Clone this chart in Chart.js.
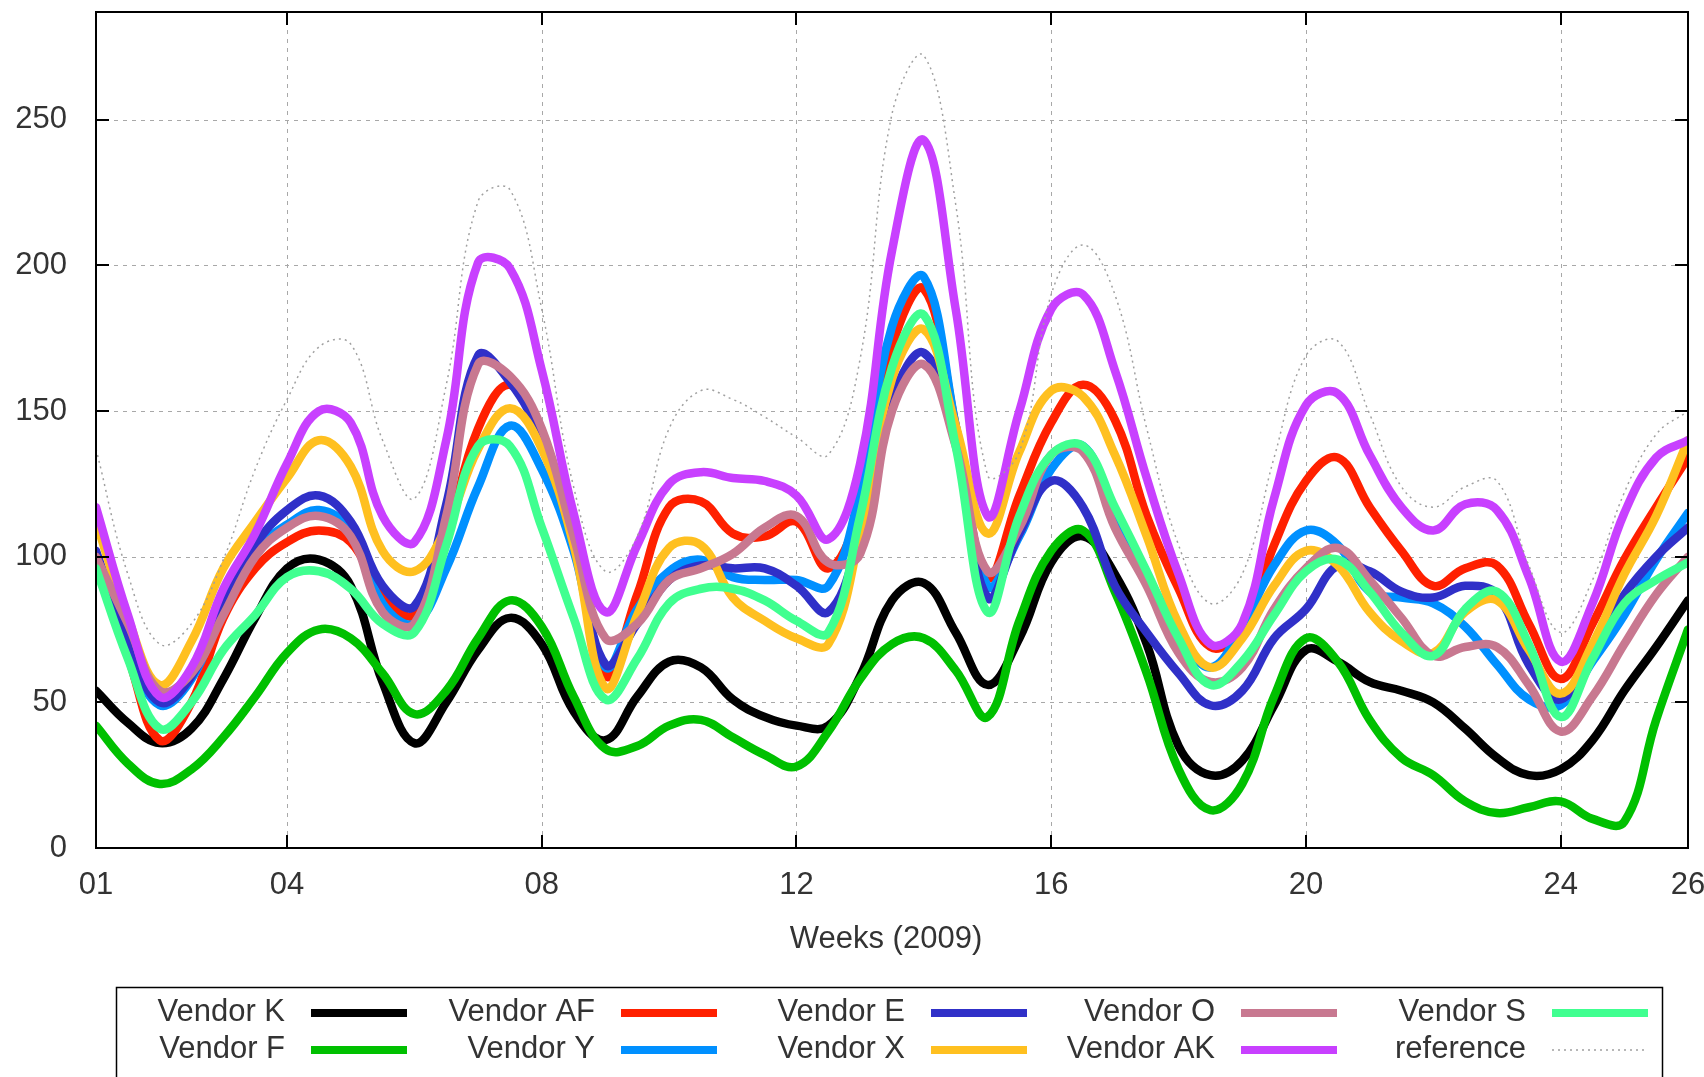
<!DOCTYPE html>
<html>
<head>
<meta charset="utf-8">
<script src="https://cdn.jsdelivr.net/npm/chart.js@4/dist/chart.umd.min.js"></script>
<style>
  html, body { margin: 0; padding: 0; background: #ffffff; }
  #wrap { width: 1704px; height: 1077px; position: relative; overflow: hidden; }
</style>
</head>
<body>
<div id="wrap"><canvas id="c" width="1704" height="1077"></canvas></div>
<script>
// ---------------- data ----------------
const weeks = [1,1.5,2,2.5,3,3.5,4,4.5,5,5.5,6,6.5,7,7.5,8,8.5,9,9.5,10,10.5,11,11.5,12,12.5,13,13.5,14,14.5,15,15.5,16,16.5,17,17.5,18,18.5,19,19.5,20,20.5,21,21.5,22,22.5,23,23.5,24,24.5,25,25.5,26];

const vendorK  = [54,43,36,41,58,79,96,99,90,57,36,50,68,79,70,47,37,52,64,62,51,45,42,42,59,85,91,74,56,72,98,107,94,70,35,25,30,49,68,64,57,54,50,41,31,25,27,37,54,69,85];
const vendorF  = [42,29,22,27,38,52,67,75,72,60,46,54,72,85,76,52,34,35,42,44,38,32,28,40,58,70,72,61,45,78,102,109,88,60,27,13,22,52,72,64,44,31,25,16,12,14,16,10,9,44,75];
const vendorAF = [98,66,37,50,79,96,105,109,105,87,80,107,144,159,140,110,59,87,117,119,108,107,112,96,117,172,192,145,93,121,146,159,147,114,89,69,75,104,126,134,117,102,90,96,97,77,58,77,99,117,134];
const vendorY  = [100,69,49,58,83,102,111,116,109,84,77,96,124,145,130,102,62,82,95,99,93,92,92,90,123,179,196,145,90,107,130,138,114,94,74,62,76,97,109,104,88,86,84,76,63,51,49,64,80,99,115];
const vendorE  = [102,71,50,59,84,104,116,121,112,90,83,118,169,160,140,107,63,77,92,97,96,96,90,81,108,154,170,140,86,108,126,117,90,74,60,49,54,72,82,97,95,88,86,90,87,63,51,69,87,100,110];
const vendorX  = [112,79,56,71,96,112,127,140,131,102,95,110,137,151,137,104,55,80,103,104,86,78,72,70,108,161,178,145,108,136,157,155,135,107,77,62,72,90,102,97,81,71,67,81,85,68,53,70,94,114,140];
const vendorO  = [100,77,54,60,80,100,110,114,107,81,77,114,166,162,144,107,72,77,92,96,101,110,114,98,101,150,166,138,95,110,135,136,110,90,67,57,62,82,96,103,92,79,66,69,69,56,40,52,70,87,100];
const vendorAK = [117,80,52,62,89,108,132,150,146,114,105,140,201,199,164,115,81,104,125,129,127,126,121,106,132,205,243,185,114,150,185,190,164,127,94,70,77,120,152,156,135,117,109,118,116,93,64,84,115,134,140];
const vendorS  = [96,65,41,50,68,80,93,95,89,77,74,104,138,138,110,79,51,65,84,89,89,85,78,74,114,165,183,138,81,114,135,138,117,95,72,56,64,80,95,99,88,74,66,82,88,70,45,65,84,92,98];
const reference= [137,94,70,77,99,130,154,172,173,140,120,159,222,226,185,124,95,107,144,157,154,148,141,135,168,252,272,221,128,136,190,207,190,144,104,84,94,134,169,174,149,124,117,124,126,97,74,92,122,142,150];

const seriesLabels = ['Vendor K','Vendor F','Vendor AF','Vendor Y','Vendor E','Vendor X','Vendor O','Vendor AK','Vendor S','reference'];
const seriesValues = [vendorK, vendorF, vendorAF, vendorY, vendorE, vendorX, vendorO, vendorAK, vendorS, reference];
const seriesColors = ['#000000','#00c000','#ff2000','#0090ff','#3030c8','#ffc020','#c87890','#c840ff','#40ff90','#a0a0a0'];

const xTickValues = [1,4,8,12,16,20,24,26];
const xTickLabels = ['01','04','08','12','16','20','24','26'];
const yTickValues = [0,50,100,150,200,250];
const yTickLabels = ['0','50','100','150','200','250'];
const xTitle = 'Weeks (2009)';
const X_MIN = 1, X_MAX = 26, Y_MIN = 0, Y_MAX = 287;

// ---------------- styling ----------------
const FONT = "'Liberation Sans', Arial, sans-serif";
const FSIZE = 31;
const TXT = '#333333';
const LW = 8.5;

const datasets = seriesLabels.map((lab, i) => {
  const isRef = lab === 'reference';
  return {
    label: lab,
    data: weeks.map((w, j) => ({ x: w, y: seriesValues[i][j] })),
    borderColor: seriesColors[i],
    backgroundColor: seriesColors[i],
    borderWidth: isRef ? 1.5 : LW,
    borderDash: isRef ? [2, 4] : [],
    borderJoinStyle: 'round',
    borderCapStyle: isRef ? 'butt' : 'round',
    pointRadius: 0,
    fill: false,
    tension: 0.4,
    order: seriesLabels.length - i
  };
});

const decor = {
  id: 'decor',
  beforeDatasetsDraw(chart) {
    const { ctx, chartArea: a, scales: { x, y } } = chart;
    ctx.save();
    ctx.strokeStyle = '#a8a8a8';
    ctx.lineWidth = 1;
    ctx.setLineDash([4, 5]);
    yTickValues.forEach(v => {
      if (v === Y_MIN) return;
      const py = Math.round(y.getPixelForValue(v)) + 0.5;
      ctx.beginPath(); ctx.moveTo(a.left, py); ctx.lineTo(a.right, py); ctx.stroke();
    });
    xTickValues.forEach(v => {
      if (v === X_MIN || v === X_MAX) return;
      const px = Math.round(x.getPixelForValue(v)) + 0.5;
      ctx.beginPath(); ctx.moveTo(px, a.top); ctx.lineTo(px, a.bottom); ctx.stroke();
    });
    ctx.restore();
  },
  afterDatasetsDraw(chart) {
    const { ctx, chartArea: a, scales: { x, y } } = chart;
    ctx.save();
    ctx.setLineDash([]);
    ctx.strokeStyle = '#000000';
    ctx.lineWidth = 2;
    ctx.strokeRect(a.left, a.top, a.right - a.left, a.bottom - a.top);
    const TL = 13;
    ctx.lineWidth = 2;
    yTickValues.forEach(v => {
      const py = Math.round(y.getPixelForValue(v));
      ctx.beginPath(); ctx.moveTo(a.left, py); ctx.lineTo(a.left + TL, py); ctx.stroke();
      ctx.beginPath(); ctx.moveTo(a.right, py); ctx.lineTo(a.right - TL, py); ctx.stroke();
    });
    xTickValues.forEach(v => {
      const px = Math.round(x.getPixelForValue(v));
      ctx.beginPath(); ctx.moveTo(px, a.bottom); ctx.lineTo(px, a.bottom - TL); ctx.stroke();
      ctx.beginPath(); ctx.moveTo(px, a.top); ctx.lineTo(px, a.top + TL); ctx.stroke();
    });
    ctx.restore();
  },
  afterDraw(chart) {
    const { ctx } = chart;
    ctx.save();
    ctx.font = FSIZE + 'px ' + FONT;
    ctx.fillStyle = TXT;
    ctx.textBaseline = 'middle';
    ctx.textAlign = 'center';
    ctx.fillText(xTitle, 886, 939);

    // legend box (gnuplot style: text then line sample, column-major)
    ctx.strokeStyle = '#000000';
    ctx.lineWidth = 1.5;
    ctx.strokeRect(116.5, 987.5, 1546, 120);
    const ds = chart.data.datasets;
    const rows = 2;
    const colEnd = [285, 595, 905, 1215, 1526];
    const rowY = [1012, 1049];
    ds.forEach((d, i) => {
      const col = Math.floor(i / rows), row = i % rows;
      const xe = colEnd[col], yy = rowY[row];
      ctx.textAlign = 'right';
      ctx.fillStyle = TXT;
      ctx.fillText(d.label, xe, yy);
      ctx.beginPath();
      ctx.strokeStyle = d.borderColor;
      ctx.lineWidth = d.borderWidth > 2 ? 8 : d.borderWidth;
      ctx.setLineDash(d.borderDash || []);
      ctx.lineCap = 'butt';
      ctx.moveTo(xe + 26, yy + 1);
      ctx.lineTo(xe + 122, yy + 1);
      ctx.stroke();
    });
    ctx.restore();
  }
};

function zeroPad(s) { s.paddingTop = 0; s.paddingBottom = 0; s.paddingLeft = 0; s.paddingRight = 0; }

new Chart(document.getElementById('c'), {
  type: 'line',
  data: { datasets },
  options: {
    responsive: false,
    animation: false,
    devicePixelRatio: 1,
    layout: { padding: { left: 0, right: 16, top: 12, bottom: 0 } },
    plugins: { legend: { display: false }, tooltip: { enabled: false }, title: { display: false } },
    scales: {
      x: {
        type: 'linear',
        min: X_MIN, max: X_MAX,
        afterBuildTicks: s => { s.ticks = xTickValues.map(v => ({ value: v })); },
        afterFit: s => { s.height = 229; zeroPad(s); },
        ticks: {
          autoSkip: false, maxRotation: 0, minRotation: 0,
          padding: 19,
          color: TXT,
          font: { family: FONT, size: FSIZE },
          callback: v => xTickLabels[xTickValues.indexOf(v)]
        },
        grid: { display: false, drawTicks: false },
        border: { display: false }
      },
      y: {
        type: 'linear',
        min: Y_MIN, max: Y_MAX,
        afterBuildTicks: s => { s.ticks = yTickValues.map(v => ({ value: v })); },
        afterFit: s => { s.width = 96; zeroPad(s); },
        ticks: {
          padding: 29,
          color: TXT,
          font: { family: FONT, size: FSIZE },
          callback: v => yTickLabels[yTickValues.indexOf(v)]
        },
        grid: { display: false, drawTicks: false },
        border: { display: false }
      }
    }
  },
  plugins: [decor]
});
</script>
</body>
</html>
